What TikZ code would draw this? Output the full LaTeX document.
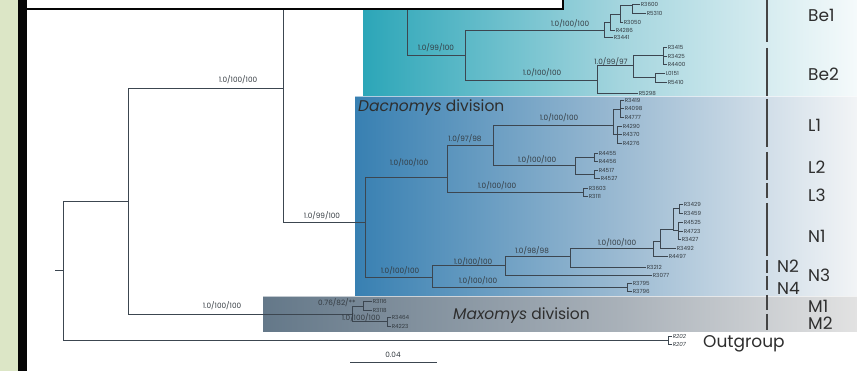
\documentclass[tikz,border=0pt]{standalone}
\usepackage{fontspec}
\setmainfont{Poppins}
\definecolor{leftgreen}{HTML}{DCE6C6}
\definecolor{barcol}{HTML}{050505}
\definecolor{beL}{HTML}{2CA6B8}
\definecolor{beM}{HTML}{A4D5DE}
\definecolor{beR}{HTML}{F5FAFB}
\definecolor{dacL}{HTML}{3880B2}
\definecolor{dacM}{HTML}{9BBAD2}
\definecolor{dacR}{HTML}{F2F4F6}
\definecolor{maxL}{HTML}{647889}
\definecolor{maxM}{HTML}{A9B1B9}
\definecolor{maxR}{HTML}{E2E2E2}
\definecolor{treeline}{HTML}{3C4650}
\definecolor{labc}{HTML}{333A40}
\definecolor{biglab}{HTML}{2E2E2E}
\definecolor{seggray}{HTML}{444444}
\newcommand{\lf}[4]{\node[leaflab] (#1) at (#2) {#3}; \draw[lbr] (#4) |- (#1.west);}
\begin{document}
\begin{tikzpicture}[x=1pt,y=-1pt,
  br/.style={draw=treeline,line width=0.75pt},
  lbr/.style={draw=treeline,line width=0.6pt},
  blab/.style={font=\fontsize{7.3}{8}\selectfont,text=labc,inner sep=0pt},
  leaflab/.style={font=\fontsize{5.6}{6}\selectfont,text=labc,inner sep=0.6pt,anchor=west},
  glab/.style={font=\fontsize{17}{17}\selectfont,text=biglab,inner sep=0pt,anchor=west},
  divlab/.style={font=\fontsize{15.5}{16}\selectfont,text=biglab,inner sep=0pt,anchor=west},
  seg/.style={draw=seggray,line width=1.1pt}]
\useasboundingbox (0,0) rectangle (857,371);
\fill[white] (0,0) rectangle (857,371);
% coloured regions
\shade[left color=beL, right color=beM] (363,0) rectangle (620,97);
\shade[left color=beM, right color=beR] (620,0) rectangle (857,97);
\shade[left color=dacL, right color=dacM] (355,97) rectangle (620,297);
\shade[left color=dacM, right color=dacR] (620,97) rectangle (857,297);
\shade[left color=maxL, right color=maxM] (263,297) rectangle (620,332);
\shade[left color=maxM, right color=maxR] (620,297) rectangle (857,332);
\draw[white,opacity=0.6,line width=1pt] (355,97) -- (857,97);
\draw[white,opacity=0.6,line width=1pt] (263,297) -- (857,297);
% internal nodes
\coordinate (r0) at (55,270);
\coordinate (root) at (63,270);
\coordinate (I) at (128,201);
\coordinate (A) at (283,88);
\coordinate (Be) at (407,3);
\coordinate (Betop) at (407,-8);
\coordinate (Be12) at (465,55);
\coordinate (Be1n) at (604,30);
\coordinate (B) at (610,22);
\coordinate (C) at (620,14);
\coordinate (D) at (632,5);
\coordinate (Be2n) at (597,80);
\coordinate (E) at (633,65);
\coordinate (F) at (663,55);
\coordinate (G) at (655,77);
\coordinate (Dac) at (365,222);
\coordinate (L) at (447,177);
\coordinate (L12) at (493,145);
\coordinate (L1n) at (613,125);
\coordinate (H) at (620,109);
\coordinate (I2) at (617,134);
\coordinate (L2n) at (575,165);
\coordinate (J) at (594,157);
\coordinate (K) at (594,174);
\coordinate (L3n) at (583,192);
\coordinate (N) at (432,277);
\coordinate (N123) at (505,265);
\coordinate (N1n) at (570,256);
\coordinate (P) at (653,248);
\coordinate (Q) at (660,241);
\coordinate (S) at (673,229);
\coordinate (T) at (679,208);
\coordinate (U) at (678,230);
\coordinate (N4n) at (627,287);
\coordinate (Max) at (352,314);
\coordinate (V) at (363,306);
\coordinate (W) at (387,321);
\coordinate (Og) at (668,340);
% branches
\draw[br] (r0) -- (root);
\draw[br] (root) |- (I);
\draw[br] (root) |- (Og);
\draw[br] (I) |- (A);
\draw[br] (I) |- (Max);
\draw[br] (A) |- (Be);
\draw[br] (A) |- (Dac);
\draw[br] (Be) -- (Betop);
\draw[br] (Be) |- (Be12);
\draw[br] (Be12) |- (Be1n);
\draw[br] (Be12) |- (Be2n);
\draw[br] (Be1n) |- (B);
\draw[br] (B) |- (C);
\draw[br] (C) |- (D);
\draw[br] (Be2n) |- (E);
\draw[br] (E) |- (F);
\draw[br] (E) |- (G);
\draw[br] (Dac) |- (L);
\draw[br] (Dac) |- (N);
\draw[br] (L) |- (L12);
\draw[br] (L12) |- (L1n);
\draw[br] (L12) |- (L2n);
\draw[br] (L1n) |- (H);
\draw[br] (L1n) |- (I2);
\draw[br] (L2n) |- (J);
\draw[br] (L2n) |- (K);
\draw[br] (L) |- (L3n);
\draw[br] (N) |- (N123);
\draw[br] (N) |- (N4n);
\draw[br] (N123) |- (N1n);
\draw[br] (N1n) |- (P);
\draw[br] (P) |- (Q);
\draw[br] (Q) |- (S);
\draw[br] (S) |- (T);
\draw[br] (S) |- (U);
\draw[br] (Max) |- (V);
\draw[br] (Max) |- (W);
% leaves
\lf{lR3441}{613,37}{R3441}{Be1n}
\lf{lR4286}{615,30}{R4286}{B}
\lf{lR3050}{623,22}{R3050}{C}
\lf{lR3600}{640,4}{R3600}{D}
\lf{lR5310}{646,13}{R5310}{D}
\lf{lR5298}{638,93}{R5298}{Be2n}
\lf{lR3415}{667,47}{R3415}{F}
\lf{lR3425}{667,56}{R3425}{F}
\lf{lR4400}{667,64}{R4400}{F}
\lf{lL0151}{665,73}{L0151}{G}
\lf{lR5410}{667,82}{R5410}{G}
\lf{lR3419}{624,100}{R3419}{H}
\lf{lR4098}{624,108}{R4098}{H}
\lf{lR4777}{624,117}{R4777}{H}
\lf{lR4290}{622,126}{R4290}{I2}
\lf{lR4370}{622,134}{R4370}{I2}
\lf{lR4276}{622,143}{R4276}{I2}
\lf{lR4455}{598,153}{R4455}{J}
\lf{lR4456}{598,161}{R4456}{J}
\lf{lR4517}{598,170}{R4517}{K}
\lf{lR4527}{600,178}{R4527}{K}
\lf{lR3603}{588,188}{R3603}{L3n}
\lf{lR3111}{588,196}{R3111}{L3n}
\lf{lR3429}{683,204}{R3429}{T}
\lf{lR3459}{683,213}{R3459}{T}
\lf{lR4525}{683,222}{R4525}{U}
\lf{lR4723}{683,231}{R4723}{U}
\lf{lR3427}{681,239}{R3427}{U}
\lf{lR3492}{676,248}{R3492}{Q}
\lf{lR4497}{668,256}{R4497}{P}
\lf{lR3212}{646,267}{R3212}{N1n}
\lf{lR3077}{652,275}{R3077}{N123}
\lf{lR3795}{632,283}{R3795}{N4n}
\lf{lR3796}{632,291}{R3796}{N4n}
\lf{lR3116}{372,301}{R3116}{V}
\lf{lR3118}{372,310}{R3118}{V}
\lf{lR3464}{391,317}{R3464}{W}
\lf{lR4223}{391,326}{R4223}{W}
\lf{lR202}{672,336}{\textit{R202}}{Og}
\lf{lR207}{672,344}{\textit{R207}}{Og}
% branch support labels
\node[blab] (sA) at (238,80) {1.0/100/100};
\node[blab] (sBe12) at (436,48) {1.0/99/100};
\node[blab] (sBe1) at (570,24) {1.0/100/100};
\node[blab] (sBe2) at (542,73) {1.0/100/100};
\node[blab] (sE) at (611,62) {1.0/99/97};
\node[blab] (sDac) at (322,216) {1.0/99/100};
\node[blab] (sL) at (409,163) {1.0/100/100};
\node[blab] (sL12) at (465,139) {1.0/97/98};
\node[blab] (sL1) at (559,118) {1.0/100/100};
\node[blab] (sL2) at (537,160) {1.0/100/100};
\node[blab] (sL3) at (497,186) {1.0/100/100};
\node[blab] (sN) at (400,271) {1.0/100/100};
\node[blab] (sN123) at (473,262) {1.0/100/100};
\node[blab] (sN1) at (532,251) {1.0/98/98};
\node[blab] (sP) at (617,243) {1.0/100/100};
\node[blab] (sN4) at (478,281) {1.0/100/100};
\node[blab] (sMax) at (222,306) {1.0/100/100};
\node[blab] (sV) at (337,303) {0.76/82/**};
\node[blab] (sW) at (361,318) {1.0/100/100};
% division labels
\node[divlab] (dacl) at (358,108) {\textit{Dacnomys} division};
\node[divlab] (maxl) at (453,316) {\textit{Maxomys} division};
% clade bars
\foreach \a/\b in {0/42,48/96,99/147,152/180,183/198,203/256,260/273,276/290,295/310,314/330}
  \draw[seg] (767,\a) -- (767,\b);
\node[glab] (cBe1) at (808,15) {Be1};
\node[glab] (cBe2) at (808,74) {Be2};
\node[glab] (cL1) at (808,125) {L1};
\node[glab] (cL2) at (808,167) {L2};
\node[glab] (cL3) at (808,195) {L3};
\node[glab] (cN1) at (808,236) {N1};
\node[glab] (cN2) at (777,266) {N2};
\node[glab] (cN3) at (808,275) {N3};
\node[glab] (cN4) at (777,288) {N4};
\node[glab] (cM1) at (808,306) {M1};
\node[glab] (cM2) at (808,323) {M2};
\node[glab] (cOut) at (703,344) {Outgroup};
% scale bar
\coordinate (sb1) at (350,362);
\coordinate (sb2) at (437,362);
\draw[br] (sb1) -- (sb2);
\node[blab] (sbl) at (393,355) {0.04};
% top box
\draw[draw=barcol,line width=2pt,fill=white] (24,-10) rectangle (563,9);
% left panel
\fill[leftgreen] (0,0) rectangle (18,371);
\draw[barcol,line width=9pt] (22.5,-10) -- (22.5,380);
\end{tikzpicture}
\end{document}
